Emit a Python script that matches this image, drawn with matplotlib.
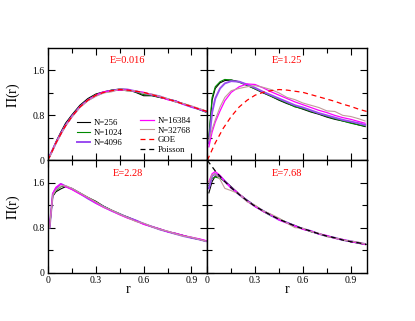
import numpy as np
import matplotlib
matplotlib.use('Agg')
import matplotlib.pyplot as plt
from matplotlib.ticker import FixedLocator, FuncFormatter

plt.rcParams['font.family'] = ['Liberation Serif', 'DejaVu Serif']
plt.rcParams['mathtext.fontset'] = 'stix'

# r grid of the numerical curves
r = [0.01,0.03,0.05,0.08,0.11,0.15,0.2,0.25,0.3,0.35,0.4,0.45,0.5,
     0.55,0.6,0.65,0.7,0.75,0.8,0.85,0.9,0.95,0.99]

# E=0.016
a256   = [0.08,0.20,0.33,0.50,0.66,0.81,0.98,1.10,1.18,1.22,1.25,1.27,1.26,1.21,1.15,1.15,1.12,1.09,1.06,1.00,0.95,0.91,0.86]
a1024  = [0.07,0.19,0.31,0.48,0.63,0.79,0.96,1.08,1.17,1.21,1.25,1.25,1.24,1.22,1.17,1.16,1.12,1.09,1.04,1.01,0.96,0.90,0.86]
a4096  = [0.07,0.19,0.31,0.47,0.62,0.78,0.95,1.07,1.15,1.21,1.24,1.26,1.26,1.23,1.20,1.17,1.14,1.09,1.05,1.00,0.95,0.91,0.87]
a16384 = [0.07,0.19,0.31,0.47,0.62,0.78,0.95,1.07,1.16,1.22,1.24,1.25,1.25,1.23,1.21,1.17,1.13,1.08,1.05,1.00,0.96,0.91,0.87]
a32768 = [0.06,0.18,0.30,0.46,0.61,0.77,0.94,1.06,1.14,1.20,1.22,1.27,1.23,1.24,1.19,1.18,1.14,1.10,1.04,1.01,0.97,0.92,0.88]

# E=1.25
b256   = [0.38,1.07,1.28,1.38,1.42,1.43,1.40,1.34,1.27,1.20,1.14,1.07,1.01,0.96,0.91,0.86,0.82,0.77,0.73,0.70,0.67,0.63,0.60]
b1024  = [0.42,1.12,1.31,1.40,1.44,1.43,1.39,1.33,1.27,1.21,1.14,1.08,1.02,0.95,0.92,0.87,0.83,0.78,0.74,0.70,0.66,0.63,0.61]
b4096  = [0.30,0.85,1.10,1.28,1.37,1.41,1.40,1.35,1.29,1.22,1.16,1.10,1.04,0.98,0.94,0.89,0.84,0.80,0.76,0.72,0.69,0.66,0.63]
b16384 = [0.24,0.50,0.68,0.88,1.06,1.21,1.31,1.36,1.35,1.29,1.22,1.16,1.10,1.04,0.99,0.94,0.89,0.85,0.80,0.76,0.73,0.69,0.66]
b32768 = [0.35,0.55,0.72,0.95,1.12,1.24,1.28,1.31,1.33,1.30,1.26,1.20,1.12,1.08,1.02,0.98,0.94,0.88,0.87,0.80,0.78,0.74,0.70]

# E=2.28
c256   = [0.80,1.36,1.44,1.49,1.53,1.50,1.42,1.34,1.27,1.18,1.11,1.04,0.99,0.93,0.87,0.82,0.77,0.73,0.69,0.66,0.62,0.59,0.56]
c1024  = [0.81,1.38,1.46,1.53,1.54,1.49,1.41,1.33,1.25,1.18,1.11,1.05,0.98,0.92,0.87,0.82,0.78,0.73,0.70,0.66,0.62,0.59,0.56]
c4096  = [0.80,1.40,1.50,1.58,1.54,1.49,1.41,1.32,1.24,1.17,1.10,1.04,0.98,0.93,0.87,0.82,0.77,0.73,0.69,0.65,0.62,0.59,0.56]
c16384 = [0.82,1.41,1.52,1.58,1.53,1.48,1.40,1.33,1.24,1.16,1.10,1.03,0.97,0.92,0.86,0.82,0.78,0.73,0.70,0.66,0.63,0.60,0.57]
c32768 = [0.80,1.38,1.47,1.54,1.55,1.50,1.42,1.34,1.26,1.17,1.11,1.04,0.98,0.91,0.88,0.82,0.77,0.74,0.69,0.65,0.63,0.59,0.56]

# E=7.68
d256   = [1.42,1.62,1.72,1.71,1.63,1.53,1.40,1.29,1.19,1.10,1.03,0.95,0.89,0.83,0.78,0.73,0.69,0.65,0.62,0.58,0.55,0.53,0.50]
d1024  = [1.55,1.68,1.70,1.68,1.62,1.52,1.39,1.28,1.18,1.09,1.01,0.96,0.89,0.84,0.78,0.73,0.69,0.65,0.61,0.59,0.55,0.52,0.50]
d4096  = [1.50,1.72,1.76,1.72,1.63,1.51,1.39,1.28,1.18,1.10,1.02,0.94,0.89,0.83,0.78,0.74,0.69,0.65,0.62,0.58,0.56,0.53,0.51]
d16384 = [1.62,1.76,1.80,1.73,1.62,1.51,1.40,1.27,1.18,1.09,1.03,0.94,0.88,0.83,0.77,0.74,0.69,0.66,0.61,0.59,0.55,0.53,0.50]
d32768 = [1.60,1.74,1.76,1.66,1.50,1.46,1.40,1.26,1.20,1.10,1.04,0.97,0.88,0.80,0.79,0.73,0.70,0.64,0.62,0.58,0.56,0.54,0.51]

# reference curves
r_ref   = [0.0,0.05,0.1,0.15,0.2,0.25,0.3,0.35,0.4,0.45,0.5,0.55,0.6,0.65,0.7,0.75,0.8,0.85,0.9,0.95,1.0]
goe     = [0.0,0.31,0.57,0.78,0.95,1.07,1.16,1.21,1.24,1.26,1.25,1.23,1.21,1.17,1.13,1.09,1.05,1.00,0.96,0.91,0.87]
poisson = [2.0,1.81,1.65,1.51,1.39,1.28,1.18,1.10,1.02,0.95,0.89,0.83,0.78,0.74,0.69,0.65,0.62,0.58,0.55,0.53,0.50]

labels = ['N=256','N=1024','N=4096','N=16384','N=32768']
colors = ['black','#008a00','#9a4cf0','#ff00ff','#c09a9a']
widths = [0.8,0.8,1.4,0.9,0.8]
energies = ['E=0.016','E=1.25','E=2.28','E=7.68']
panels = [[a256,a1024,a4096,a16384,a32768],
          [b256,b1024,b4096,b16384,b32768],
          [c256,c1024,c4096,c16384,c32768],
          [d256,d1024,d4096,d16384,d32768]]
show_goe = [True, True, False, False]
show_poisson = [False, False, False, True]

W, H = 415, 321
fig = plt.figure(figsize=(W/100, H/100), dpi=100)
boxes = [(48,48),(207.3,48),(48,160.3),(207.3,160.3)]
axs = []
for (x0, y0) in boxes:
    ax = fig.add_axes([x0/W, 1-(y0+112.3)/H, 159.4/W, 112.3/H])
    axs.append(ax)

fmt = FuncFormatter(lambda v, p: '%g' % v)
for i, ax in enumerate(axs):
    for ys, lab, c, lw in zip(panels[i], labels, colors, widths):
        ax.plot(r, ys, color=c, lw=lw, label=lab)
    if show_goe[i]:
        ax.plot(r_ref, goe, color='red', lw=0.9, ls=(0,(4,3)))
    if show_poisson[i]:
        ax.plot(r_ref, poisson, color='black', lw=0.9, ls=(0,(4,3)))
    ax.set_xlim(0, 1)
    ax.set_ylim(0, 2.0)
    ax.xaxis.set_major_locator(FixedLocator([0,0.3,0.6,0.9]))
    ax.xaxis.set_minor_locator(FixedLocator([0.15,0.45,0.75]))
    ax.yaxis.set_major_locator(FixedLocator([0,0.8,1.6]))
    ax.yaxis.set_minor_locator(FixedLocator([0.4,1.2]))
    ax.tick_params(which='both', direction='in', top=True, right=True,
                   labelsize=7, pad=2.5, width=0.8)
    ax.tick_params(which='major', length=5)
    ax.tick_params(which='minor', length=3.5)
    ax.xaxis.set_major_formatter(fmt)
    ax.yaxis.set_major_formatter(fmt)
    for s in ax.spines.values():
        s.set_linewidth(1.0)
    ax.text(0.5, 1.77, energies[i], color='red', fontsize=7.5, ha='center', va='center')
    if i in (0, 1):
        ax.tick_params(labelbottom=False)
    else:
        ax.set_xlabel('r', fontsize=10)
        ax.xaxis.set_label_coords(0.5, -0.09)
    if i in (1, 3):
        ax.tick_params(labelleft=False)
    else:
        ax.set_ylabel(r'$\Pi$(r)', fontsize=10)
        ax.yaxis.set_label_coords(-0.165, 0.58)

# legend in the first panel
ax = axs[0]
h, l = ax.get_legend_handles_labels()
goe_h, = ax.plot([], [], color='red', lw=0.9, ls=(0,(4,3)))
poi_h, = ax.plot([], [], color='black', lw=0.9, ls=(0,(4,3)))
kw = dict(loc='upper left', frameon=False, fontsize=6.3, handlelength=1.5,
          handletextpad=0.45, labelspacing=0.2, borderpad=0, borderaxespad=0)
leg1 = ax.legend(h[:3], l[:3], bbox_to_anchor=(0.18, 0.365), **kw)
ax.add_artist(leg1)
ax.legend(h[3:] + [goe_h, poi_h], l[3:] + ['GOE', 'Poisson'],
          bbox_to_anchor=(0.58, 0.39), **kw)

fig.savefig('out.png', dpi=100)
